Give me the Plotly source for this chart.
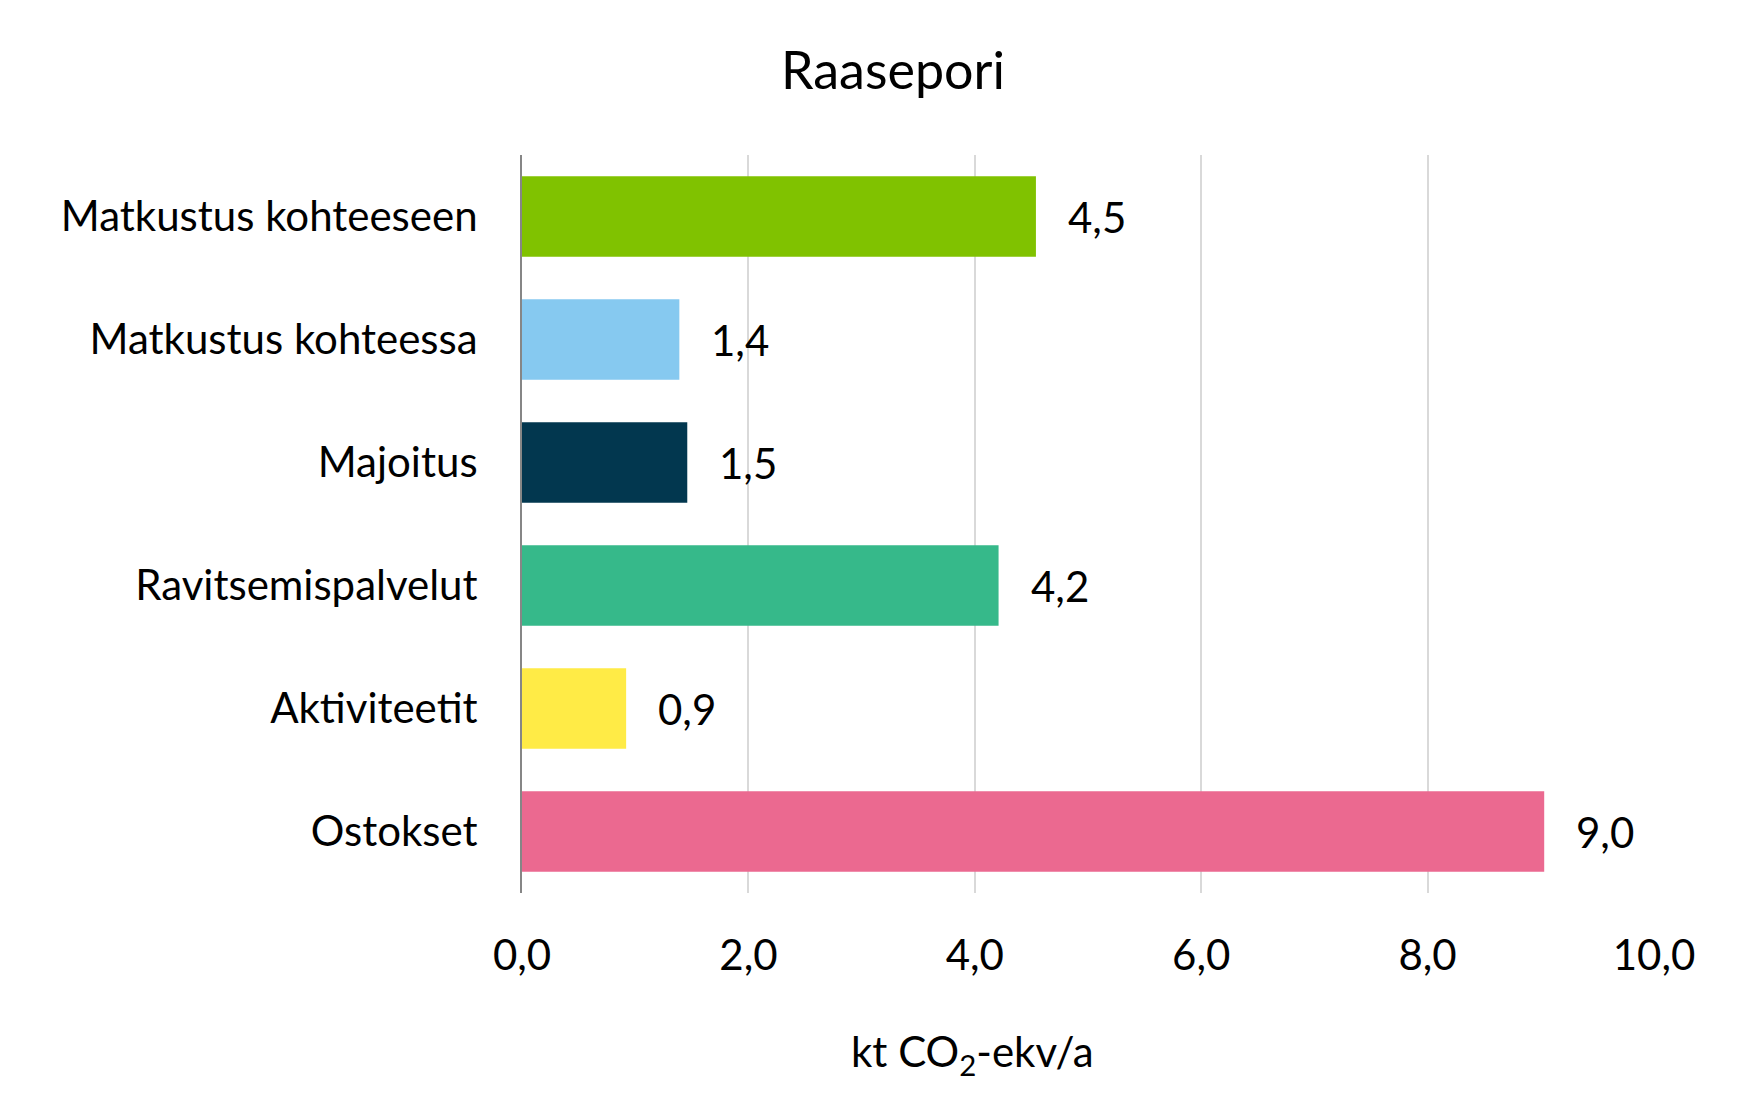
import plotly.graph_objects as go

categories = ["Matkustus kohteeseen", "Matkustus kohteessa", "Majoitus",
              "Ravitsemispalvelut", "Aktiviteetit", "Ostokset"]
values = [4.54, 1.39, 1.46, 4.21, 0.92, 9.03]
labels = ["4,5", "1,4", "1,5", "4,2", "0,9", "9,0"]
colors = ["#80C200", "#86C9F0", "#02374F", "#36B98A", "#FFEB46", "#EB6990"]
tick_vals = [0, 2, 4, 6, 8, 10]
tick_text = ["0,0", "2,0", "4,0", "6,0", "8,0", "10,0"]

FONT = "Lato"
FS = 42

fig = go.Figure()
fig.add_trace(go.Bar(
    x=values, y=categories, orientation="h",
    marker=dict(color=colors, line=dict(width=0)),
    width=0.655, hoverinfo="skip",
))

for v, c, t in zip(values, categories, labels):
    fig.add_annotation(x=v, y=c, text=t, xref="x", yref="y",
                       xanchor="left", yanchor="middle", xshift=30, showarrow=False,
                       font=dict(family=FONT, size=FS, color="#000000"))

fig.add_annotation(x=0.398, y=-0.218, xref="paper", yref="paper",
                   text="kt CO<sub>2</sub>-ekv/a", showarrow=False,
                   xanchor="center", yanchor="middle",
                   font=dict(family=FONT, size=FS, color="#000000"))

fig.update_layout(
    width=1762, height=1116,
    margin=dict(l=514, r=116, t=147, b=231),
    paper_bgcolor="white", plot_bgcolor="white",
    showlegend=False,
    title=dict(text="Raasepori", x=885 / 1762, xref="container", xanchor="center",
               y=1 - 63 / 1116, yref="container", yanchor="middle",
               font=dict(family=FONT, size=52, color="#000000")),
    xaxis=dict(range=[0, 10], tickvals=tick_vals, ticktext=tick_text,
               showgrid=True, gridcolor="#D9D9D9", gridwidth=2,
               zeroline=False, showline=False, ticks="",
               ticklabelstandoff=34,
               tickfont=dict(family=FONT, size=FS, color="#000000")),
    yaxis=dict(categoryorder="array", categoryarray=categories,
               autorange="reversed", showgrid=False, zeroline=False,
               showline=True, linecolor="#868686", linewidth=2,
               ticks="", ticklabelstandoff=34,
               tickfont=dict(family=FONT, size=FS, color="#000000")),
)

fig.write_html("out.html")
